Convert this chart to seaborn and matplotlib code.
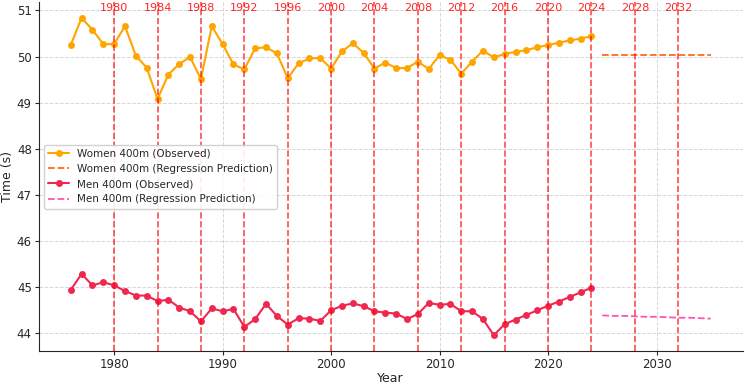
import numpy as np
import pandas as pd
import matplotlib
matplotlib.use("Agg")
import matplotlib.pyplot as plt
import seaborn as sns

# Observed winning times, 1976-2024
years = list(range(1976, 2025))
women_times = [50.25, 50.84, 50.58, 50.27, 50.27, 50.66, 50.02, 49.76, 49.08, 49.61,
               49.84, 49.99, 49.51, 50.66, 50.27, 49.83, 49.72, 50.18, 50.20, 50.07,
               49.53, 49.85, 49.96, 49.97, 49.74, 50.11, 50.29, 50.08, 49.74, 49.87,
               49.75, 49.75, 49.89, 49.73, 50.03, 49.93, 49.63, 49.89, 50.13, 49.98,
               50.06, 50.10, 50.14, 50.20, 50.25, 50.30, 50.35, 50.39, 50.44]
men_times = [44.94, 45.29, 45.04, 45.11, 45.04, 44.92, 44.82, 44.82, 44.70, 44.73,
             44.56, 44.48, 44.26, 44.54, 44.48, 44.53, 44.14, 44.31, 44.64, 44.38,
             44.19, 44.33, 44.32, 44.27, 44.50, 44.60, 44.65, 44.59, 44.48, 44.45,
             44.43, 44.31, 44.42, 44.66, 44.62, 44.64, 44.48, 44.48, 44.31, 43.96,
             44.20, 44.30, 44.40, 44.50, 44.60, 44.69, 44.79, 44.89, 44.99]

# Regression prediction, 2025-2035
pred_years = list(range(2025, 2036))
women_pred = [50.04, 50.04, 50.04, 50.04, 50.04, 50.04, 50.04, 50.04, 50.04, 50.04, 50.04]
men_pred = [44.39, 44.38, 44.38, 44.37, 44.36, 44.36, 44.35, 44.34, 44.34, 44.33, 44.32]

olympic_years = list(range(1980, 2033, 4))

obs = pd.DataFrame({"Year": years, "Women": women_times, "Men": men_times})
pred = pd.DataFrame({"Year": pred_years, "Women": women_pred, "Men": men_pred})

sns.set_style("ticks")
plt.rcParams["font.family"] = ["DejaVu Sans"]

fig, ax = plt.subplots(figsize=(7.45, 3.85), dpi=100)

sns.lineplot(data=obs, x="Year", y="Women", ax=ax, color="#FFA500", marker="o",
             markersize=5, markeredgewidth=0, linewidth=1.5, label="Women 400m (Observed)")
sns.lineplot(data=pred, x="Year", y="Women", ax=ax, color="#FF6A20", linestyle="--",
             linewidth=1.3, label="Women 400m (Regression Prediction)")
sns.lineplot(data=obs, x="Year", y="Men", ax=ax, color="#F0284F", marker="o",
             markersize=5, markeredgewidth=0, linewidth=1.5, label="Men 400m (Observed)")
sns.lineplot(data=pred, x="Year", y="Men", ax=ax, color="#FF40B0", linestyle="--",
             linewidth=1.3, alpha=0.9, label="Men 400m (Regression Prediction)")

# Olympic year markers
top = max(women_times) + 0.1
for yr in olympic_years:
    ax.axvline(yr, color="red", linestyle="--", linewidth=1.2, alpha=0.7)
    ax.text(yr, top, str(yr), color="red", ha="center", va="bottom", fontsize=8, alpha=0.85)

ax.set_xlabel("Year", fontsize=9, labelpad=1)
ax.set_ylabel("Time (s)", fontsize=9, labelpad=2)
ax.tick_params(labelsize=8.5, length=3, pad=2)
ax.grid(True, linestyle="--", color="#cccccc", linewidth=0.7, alpha=0.8)
ax.legend(loc="center left", fontsize=7.5, framealpha=0.9)
sns.despine(ax=ax)

fig.subplots_adjust(left=0.052, right=0.997, top=0.995, bottom=0.088)
fig.savefig("out.png", dpi=100)
